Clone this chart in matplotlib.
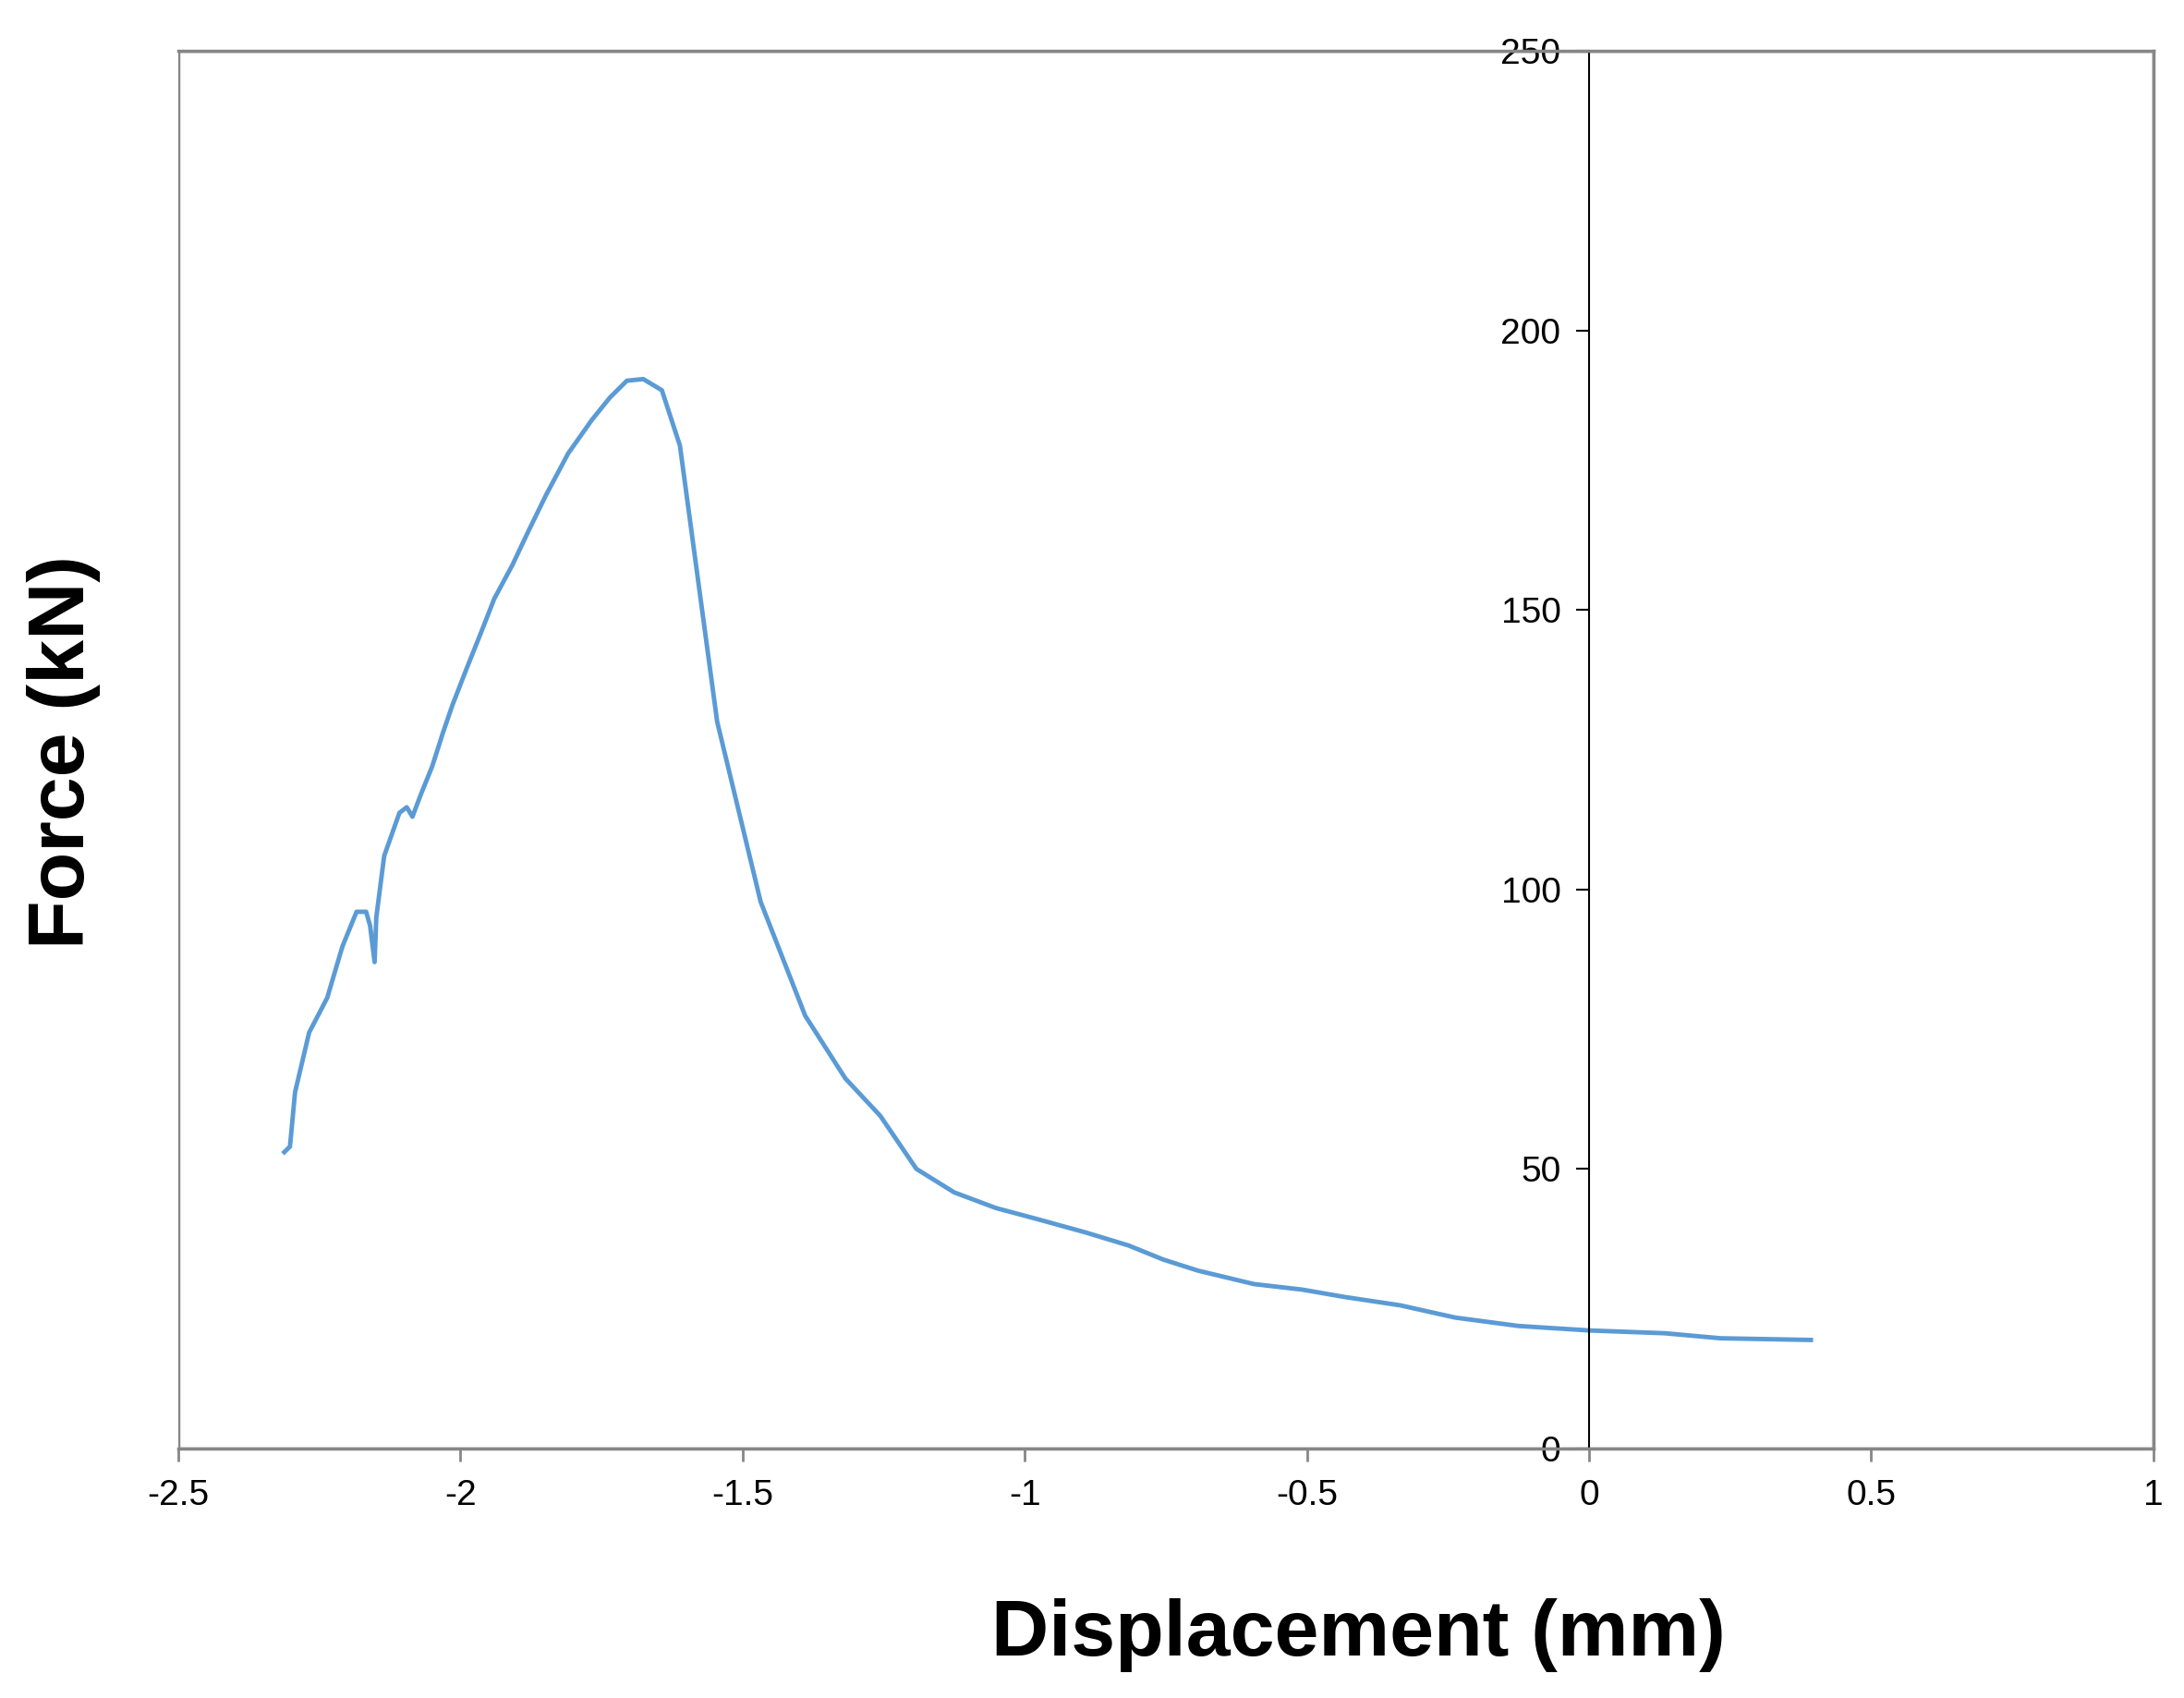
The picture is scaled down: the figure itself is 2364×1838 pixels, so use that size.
import matplotlib.pyplot as plt
from matplotlib.patches import Rectangle

plt.rcParams['font.family'] = ['Liberation Sans', 'DejaVu Sans']

# displacement (mm) and force (kN)
disp = [-2.312, -2.302, -2.293, -2.268, -2.236, -2.209, -2.184, -2.167, -2.160, -2.152,
        -2.149, -2.135, -2.108, -2.095, -2.085, -2.070, -2.050, -2.031, -2.014, -1.989,
        -1.964, -1.940, -1.908, -1.878, -1.848, -1.809, -1.767, -1.735, -1.705, -1.676,
        -1.643, -1.611, -1.545, -1.468, -1.389, -1.318, -1.256, -1.192, -1.125, -1.051,
        -0.977, -0.891, -0.816, -0.755, -0.693, -0.594, -0.508, -0.434, -0.335, -0.237,
        -0.125, 0.0, 0.134, 0.233, 0.393]
force = [53, 54, 63.7, 74.4, 80.6, 89.8, 96, 96, 93.5, 87,
         95, 106, 113.7, 114.7, 113, 117, 122, 128, 133, 139.5,
         145.8, 152, 158, 164.4, 170.6, 178, 184, 188, 191, 191.3,
         189.3, 179.4, 130, 97.8, 77.4, 66.2, 59.5, 50, 45.8, 43,
         41, 38.6, 36.3, 33.8, 31.8, 29.4, 28.4, 27.1, 25.6, 23.4,
         21.9, 21.1, 20.6, 19.7, 19.4]

xticks = [-2.5, -2, -1.5, -1, -0.5, 0, 0.5, 1]
xticklabels = ['-2.5', '-2', '-1.5', '-1', '-0.5', '0', '0.5', '1']
yticks = [0, 50, 100, 150, 200, 250]

grey = '#868686'
fig = plt.figure(figsize=(23.64, 18.38), dpi=100)
ax = fig.add_axes([0.0816, 0.147, 0.9044, 0.823])
ax.plot(disp, force, color='#5B9BD5', lw=3.5)
ax.set_xlim(-2.5, 1)
ax.set_ylim(0, 250)

ax.spines['left'].set_position(('data', 0))
ax.spines['left'].set_color('black')
ax.spines['left'].set_linewidth(1.5)
for s in ['top', 'right', 'bottom']:
    ax.spines[s].set_color(grey)
    ax.spines[s].set_linewidth(2.5)
ax.add_patch(Rectangle((0, 0), 1, 1, transform=ax.transAxes, fill=False,
                       edgecolor=grey, lw=2.5, zorder=0))

ax.set_xticks(xticks)
ax.set_xticklabels(xticklabels)
ax.set_yticks(yticks)
ax.tick_params(axis='x', colors=grey, labelcolor='black', length=10, width=2,
               labelsize=28, pad=14)
ax.tick_params(axis='y', colors='black', length=10, width=1.5, labelsize=28, pad=12)

fig.text(0.622, 0.037, 'Displacement (mm)', ha='center', va='center',
         fontsize=62, fontweight='bold')
fig.text(0.029, 0.557, 'Force (kN)', ha='center', va='center', rotation=90,
         fontsize=62, fontweight='bold')

fig.savefig('out.png', dpi=100)
